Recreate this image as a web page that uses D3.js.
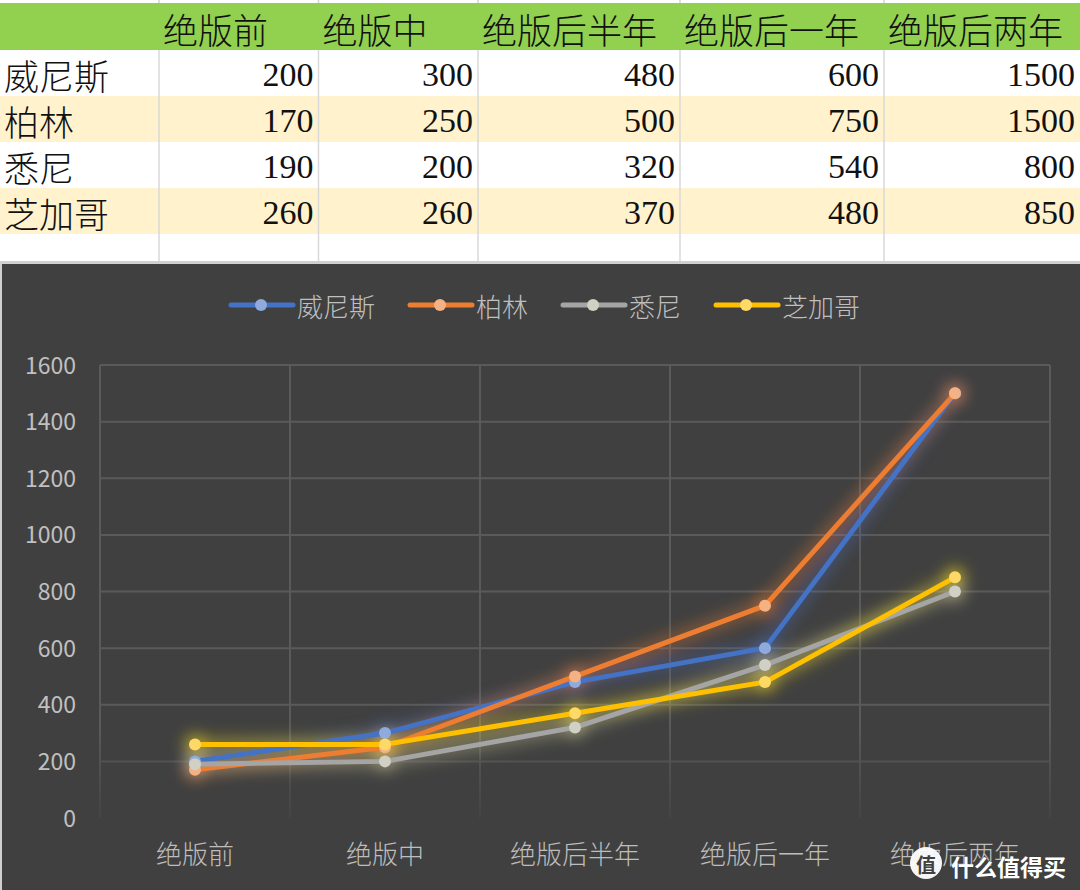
<!DOCTYPE html>
<html><head><meta charset="utf-8">
<script src="https://cdn.jsdelivr.net/npm/d3@7"></script>
<style>html,body{margin:0;padding:0;background:#fff;}svg{display:block;}</style>
</head><body>
<svg id="c" width="1080" height="890"></svg>
<script>
// ---- data ----
const categories = ["绝版前","绝版中","绝版后半年","绝版后一年","绝版后两年"];
const seriesNames = ["威尼斯","柏林","悉尼","芝加哥"];
const venice  = [200,300,480,600,1500];
const berlin  = [170,250,500,750,1500];
const sydney  = [190,200,320,540,800];
const chicago = [260,260,370,480,850];
const yTicks = [0,200,400,600,800,1000,1200,1400,1600];

const seriesValues = [venice, berlin, sydney, chicago];
const lineColors   = ["#4472c4","#ed7d31","#a5a5a5","#ffc000"];
const markerColors = ["#8faadc","#f4b183","#d0d0c4","#ffd966"];
const glowColors   = ["#4a6ab0","#e07830","#b8b890","#e8d020"];

const svg = d3.select("#c");
const CJK = "'Noto Sans CJK SC','Noto Sans',sans-serif";
const SERIF = "'Liberation Serif','Noto Sans CJK SC',serif";

// ---- spreadsheet table ----
const colEdges = [0,159,318.5,478,680,884,1080];
const rowTop = 3, headerH = 47, rowH = 46;
const table = svg.append("g");
table.append("rect").attr("x",0).attr("y",0).attr("width",1080).attr("height",262).attr("fill","#ffffff");
table.append("rect").attr("x",0).attr("y",rowTop).attr("width",1080).attr("height",headerH).attr("fill","#92d050");
seriesNames.forEach((n,i)=>{
  const y0 = rowTop+headerH+i*rowH;
  table.append("rect").attr("x",0).attr("y",y0).attr("width",1080).attr("height",rowH)
    .attr("fill", i%2===1 ? "#fff2cc" : "#ffffff");
});
colEdges.slice(1,-1).forEach(x=>{
  table.append("line").attr("x1",x).attr("x2",x).attr("y1",0).attr("y2",rowTop).attr("stroke","#d4d4d4").attr("stroke-width",1.5);
  table.append("line").attr("x1",x).attr("x2",x).attr("y1",rowTop+headerH).attr("y2",261).attr("stroke","#d9d9d9").attr("stroke-width",1.5);
});
categories.forEach((c,j)=>{
  table.append("text").attr("x",colEdges[j+1]+4).attr("y",rowTop+headerH/2+2)
    .attr("dominant-baseline","central").attr("font-family",CJK).attr("font-size",35).attr("font-weight",300)
    .attr("fill","#111").text(c);
});
seriesNames.forEach((n,i)=>{
  const cy = rowTop+headerH+i*rowH+rowH/2;
  table.append("text").attr("x",4).attr("y",cy+1).attr("dominant-baseline","central")
    .attr("font-family",CJK).attr("font-size",35).attr("font-weight",300).attr("fill","#111").text(n);
  seriesValues[i].forEach((v,j)=>{
    table.append("text").attr("x",colEdges[j+2]-5).attr("y",cy+13).attr("text-anchor","end")
      .attr("font-family",SERIF).attr("font-size",34).attr("fill","#111").text(v);
  });
});

// ---- chart area ----
svg.append("rect").attr("x",0).attr("y",261).attr("width",1080).attr("height",629).attr("fill","#d0d0d0");
svg.append("rect").attr("x",2).attr("y",264).attr("width",1078).attr("height",626).attr("fill","#404040");

const defs = svg.append("defs");
const glow = defs.append("filter").attr("id","glow").attr("x","-20%").attr("y","-20%").attr("width","140%").attr("height","140%");
glow.append("feGaussianBlur").attr("stdDeviation",7);
const grad = defs.append("linearGradient").attr("id","vfade").attr("gradientUnits","userSpaceOnUse")
  .attr("x1",0).attr("x2",0).attr("y1",365).attr("y2",818);
grad.append("stop").attr("offset","0.8").attr("stop-color","#5a5a5a");
grad.append("stop").attr("offset","1").attr("stop-color","#444444");

const x = d3.scaleBand().domain(categories).range([100,1050]);
const xc = d => x(d) + x.bandwidth()/2;
const y = d3.scaleLinear().domain([0,1600]).range([818,365]);

const grid = svg.append("g");
yTicks.filter(t=>t>0).forEach(t=>{
  grid.append("line").attr("x1",100).attr("x2",1050).attr("y1",y(t)).attr("y2",y(t))
    .attr("stroke", t===200 ? "#525252" : "#5a5a5a").attr("stroke-width",2);
});
const vEdges = categories.map(c=>x(c)).concat([x.range()[1]]);
vEdges.forEach(vx=>{
  grid.append("line").attr("x1",vx).attr("x2",vx).attr("y1",y(1600)).attr("y2",y(0))
    .attr("stroke","url(#vfade)").attr("stroke-width",2);
});

const yAxis = d3.axisLeft(y).tickValues(yTicks).tickSize(0).tickPadding(0).tickFormat(d3.format("d"));
const ya = svg.append("g").attr("transform","translate(76,0)").call(yAxis);
ya.select(".domain").remove();
ya.selectAll("text").attr("font-family",CJK).attr("font-size",23).attr("fill","#c0c0c0").attr("dy","0.35em");

const xAxis = d3.axisBottom(x).tickSize(0).tickPadding(0);
const xa = svg.append("g").attr("transform","translate(0,855)").call(xAxis);
xa.select(".domain").remove();
xa.selectAll("text").attr("font-family",CJK).attr("font-size",26).attr("font-weight",300).attr("fill","#bdbdbd").attr("dy","0.35em");

const line = d3.line().x((d,i)=>xc(categories[i])).y(d=>y(d));
const glowG = svg.append("g").attr("filter","url(#glow)");
seriesValues.forEach((vals,k)=>{
  glowG.append("path").attr("d",line(vals)).attr("fill","none")
    .attr("stroke",glowColors[k]).attr("stroke-width",16).attr("stroke-opacity",0.35)
    .attr("stroke-linejoin","round").attr("stroke-linecap","round");
  vals.forEach((v,i)=>{
    glowG.append("circle").attr("cx",xc(categories[i])).attr("cy",y(v)).attr("r",12)
      .attr("fill",glowColors[k]).attr("fill-opacity",0.4);
  });
});
seriesValues.forEach((vals,k)=>{
  const g = svg.append("g");
  g.append("path").attr("d",line(vals)).attr("fill","none")
    .attr("stroke",lineColors[k]).attr("stroke-width",5).attr("stroke-linejoin","round").attr("stroke-linecap","round");
  g.selectAll("circle").data(vals).join("circle")
    .attr("cx",(d,i)=>xc(categories[i])).attr("cy",d=>y(d)).attr("r",6)
    .attr("fill",markerColors[k]);
});

// legend
const leg = svg.append("g");
let lx = 231;
seriesNames.forEach((n,k)=>{
  const g = leg.append("g").attr("transform",`translate(${lx},305)`);
  g.append("line").attr("x1",0).attr("x2",62).attr("y1",0).attr("y2",0)
    .attr("stroke",lineColors[k]).attr("stroke-width",5).attr("stroke-linecap","round");
  g.append("circle").attr("cx",30).attr("cy",0).attr("r",6).attr("fill",markerColors[k]);
  const t = g.append("text").attr("x",66).attr("y",0).attr("dominant-baseline","central")
    .attr("font-family",CJK).attr("font-size",26).attr("font-weight",300).attr("fill","#bfbfbf").text(n);
  lx += 66 + t.node().getComputedTextLength() + 35;
});

// watermark
const wm = svg.append("g");
wm.append("circle").attr("cx",926).attr("cy",863).attr("r",16).attr("fill","#ffffff").attr("fill-opacity",0.95);
wm.append("text").attr("x",926).attr("y",864).attr("text-anchor","middle").attr("dominant-baseline","central")
  .attr("font-family",CJK).attr("font-size",20).attr("font-weight","bold").attr("fill","#404040").text("值");
wm.append("text").attr("x",951).attr("y",866).attr("dominant-baseline","central")
  .attr("font-family",CJK).attr("font-size",23).attr("font-weight","bold").attr("fill","#ffffff")
  .attr("stroke","#333").attr("stroke-width",0.6).attr("paint-order","stroke").text("什么值得买");
</script>
</body></html>
